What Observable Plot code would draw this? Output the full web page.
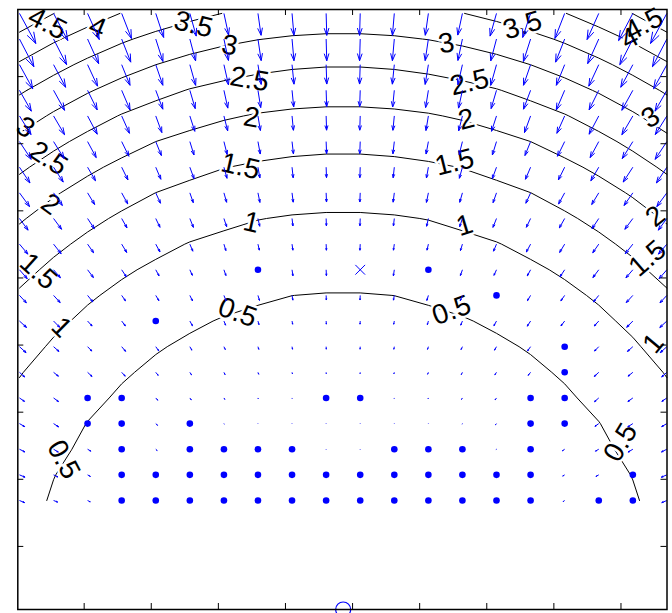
<!DOCTYPE html>
<html><head><meta charset="utf-8">
<script src="https://cdn.jsdelivr.net/npm/d3@7"></script>
<script src="https://cdn.jsdelivr.net/npm/@observablehq/plot@0.6"></script>
<style>body{margin:0;background:#fff}#chart svg{display:block}</style>
</head><body><div id="chart"></div>
<script>
// ---- data (tick units, axis equal) ----
const gridX = [-0.964, -0.456, 0.051, 0.559, 1.067, 1.575, 2.083, 2.590, 3.098, 3.606,
               4.114, 4.622, 5.130, 5.637, 6.145, 6.653, 7.161, 7.669, 8.177, 8.684];
const gridY = [7.942, 7.560, 7.178, 6.796, 6.414, 6.032, 5.650, 5.268, 4.886, 4.504,
               4.122, 3.740, 3.358, 2.976, 2.594, 2.212, 1.830, 1.448, 1.066, 0.684];
const source = [3.86, -0.94];          // open circle on the bottom axis
const markCol = 10, markRow = 10;      // grid node drawn as "x"
const contourLevels = [0.5, 1, 1.5, 2, 2.5, 3, 3.5, 4, 4.5];
// distance from the circle at which each value is reached
const profileDistance = [0, 3.5,   4.2,   4.739, 5.946, 6.811, 7.511, 8.092, 8.584, 9.066, 9.486, 9.872, 10.21];
const profileValue    = [0, 0.201, 0.348, 0.5,   1,     1.5,   2,     2.5,   3,     3.5,   4,     4.5,   5];
// grid nodes drawn as dots
const dotCol = [7,12, 14, 4, 16, 16, 2,3,9,10,15,16, 2,3,5,15,16,
                3,5,6,7,8,11,12,13,15,
                3,4,5,6,7,8,9,10,11,12,13,14,15,18,
                3,4,5,6,7,8,9,10,11,12,13,14,15,17,18];
const dotRow = [10,10, 11, 12, 13, 14, 15,15,15,15,15,15, 16,16,16,16,16,
                17,17,17,17,17,17,17,17,17,
                18,18,18,18,18,18,18,18,18,18,18,18,18,18,
                19,19,19,19,19,19,19,19,19,19,19,19,19,19,19];
const xTicks = [0, 1, 2, 3, 4, 5, 6, 7, 8];
const yTicks = [0, 1, 2, 3, 4, 5, 6, 7];
const labelText  = ["4.5","4","3.5","3","2.5","2","1.5","1","0.5","0.5","1","1.5","2","2.5","3","3.5","4","4.5",
                    "3","2","1.5","1","0.5","0.5","1","1.5","2","2.5","3"];
const labelX     = [-0.547,0.198,1.629,2.166,2.464,2.493,2.329,2.493,2.285,5.474,5.668,5.519,5.698,5.742,5.399,6.532,8.127,8.340,
                    8.440,8.514,8.395,8.484,7.993,-0.308,-0.338,-0.681,-0.502,-0.532,-0.875];
const labelY     = [7.793,7.734,7.778,7.465,6.959,6.392,5.662,4.827,3.486,3.516,4.783,5.722,6.363,6.914,7.495,7.763,7.570,7.778,
                    6.392,4.917,4.291,3.024,1.549,1.295,3.263,4.097,5.096,5.781,6.243];
const labelAngle = [27,23,14,11,10,10,13,13,20,-20,-17,-14,-14,-13,-10,-17,-27,-28,
                    -32,-39,-41,-50,-59,62,45,42,36,33,33];

// ---- derived tables ----
const nx = gridX.length, ny = gridY.length;
const profile = d3.scaleLinear(profileDistance, profileValue);
const V = (i, j) => profile(Math.hypot(gridX[i] - source[0], gridY[j] - source[1]));
const values = [];
for (let j = 0; j < ny; ++j) for (let i = 0; i < nx; ++i) values.push(V(i, j));

// contour polylines (drop the closing segments along the grid border)
const stepX = (gridX[nx - 1] - gridX[0]) / (nx - 1);
const stepY = (gridY[0] - gridY[ny - 1]) / (ny - 1);
const contourPts = [];
let pid = 0;
const inside = p => p[0] > 0 && p[0] < nx && p[1] > 0 && p[1] < ny;
const flush = run => {
  if (run.length >= 2) {
    for (const p of run) contourPts.push({x: gridX[0] + (p[0] - 0.5) * stepX, y: gridY[0] - (p[1] - 0.5) * stepY, id: pid});
    pid++;
  }
};
for (const c of d3.contours().size([nx, ny]).thresholds(contourLevels)(values)) {
  for (const poly of c.coordinates) for (const ring of poly) {
    let run = [];
    for (const p of ring) {
      if (inside(p)) run.push(p); else { flush(run); run = []; }
    }
    flush(run);
  }
}

// quiver: arrows along -gradient of the grid (length on a power scale)
const isDot = new Set(dotCol.map((c, q) => c + "," + dotRow[q]));
isDot.add(markCol + "," + markRow);
const k = 0.313, p = 1.4, alpha = 0.33, beta = 0.33;
const arrows = [];
for (let j = 0; j < ny; ++j) for (let i = 0; i < nx; ++i) {
  if (isDot.has(i + "," + j)) continue;
  const i0 = Math.max(i - 1, 0), i1 = Math.min(i + 1, nx - 1);
  const j0 = Math.max(j - 1, 0), j1 = Math.min(j + 1, ny - 1);
  const gx = (V(i1, j) - V(i0, j)) / (gridX[i1] - gridX[i0]);
  const gy = (V(i, j0) - V(i, j1)) / (gridY[j0] - gridY[j1]);
  const g = Math.hypot(gx, gy);
  if (!(g > 0)) continue;
  const len = k * Math.pow(g, p);
  const u = -gx / g * len, v = -gy / g * len;
  const x = gridX[i], y = gridY[j], tx = x + u, ty = y + v;
  arrows.push({x, y, tx, ty,
    w1x: tx - alpha * (u + beta * v), w1y: ty - alpha * (v - beta * u),
    w2x: tx - alpha * (u - beta * v), w2y: ty - alpha * (v + beta * u)});
}
const dots = dotCol.map((c, q) => ({x: gridX[c], y: gridY[dotRow[q]]}));
const labels = labelText.map((t, q) => ({t, x: labelX[q], y: labelY[q], a: labelAngle[q]}));

// ---- plot ----
const W = 672, H = 613, mL = 17.3, mR = 5.5, mT = 9, mB = 4;
const fw = W - mL - mR, fh = H - mT - mB, tk = 6;
const blue = "#0000ff";
const font = "Liberation Sans, Arial, Helvetica, sans-serif";
const chart = Plot.plot({
  width: W, height: H, marginLeft: mL, marginRight: mR, marginTop: mT, marginBottom: mB,
  x: {domain: [-0.989, 8.686], axis: null},
  y: {domain: [-0.94, 8.0], axis: null},
  style: {background: "white"},
  marks: [
    Plot.line(contourPts, {x: "x", y: "y", z: "id", stroke: "black", strokeWidth: 1}),
    Plot.text(labels, {x: "x", y: "y", text: "t", rotate: "a", fontSize: 28, fontFamily: font, fill: "white", stroke: "white", strokeWidth: 5}),
    Plot.text(labels, {x: "x", y: "y", text: "t", rotate: "a", fontSize: 28, fontFamily: font, fill: "black"}),
    Plot.link(arrows, {x1: "x", y1: "y", x2: "tx", y2: "ty", stroke: blue, strokeWidth: 1}),
    Plot.link(arrows, {x1: "w1x", y1: "w1y", x2: "tx", y2: "ty", stroke: blue, strokeWidth: 1}),
    Plot.link(arrows, {x1: "w2x", y1: "w2y", x2: "tx", y2: "ty", stroke: blue, strokeWidth: 1}),
    Plot.dot(dots, {x: "x", y: "y", r: 3.3, fill: blue}),
    Plot.dot([[gridX[markCol], gridY[markRow]]], {x: d => d[0], y: d => d[1], symbol: "times", r: 4.5, stroke: blue, strokeWidth: 1}),
    Plot.dot([source], {x: d => d[0], y: d => d[1], r: 7.5, stroke: blue, fill: "none", strokeWidth: 1.2}),
    Plot.tickX(xTicks, {x: d => d, insetTop: fh - tk, stroke: "black"}),
    Plot.tickX(xTicks, {x: d => d, insetBottom: fh - tk, stroke: "black"}),
    Plot.tickY(yTicks, {y: d => d, insetRight: fw - tk, stroke: "black"}),
    Plot.tickY(yTicks, {y: d => d, insetLeft: fw - tk, stroke: "black"}),
    Plot.frame({stroke: "black", strokeWidth: 1.5})
  ]
});
document.getElementById("chart").append(chart);
</script>
</body></html>
